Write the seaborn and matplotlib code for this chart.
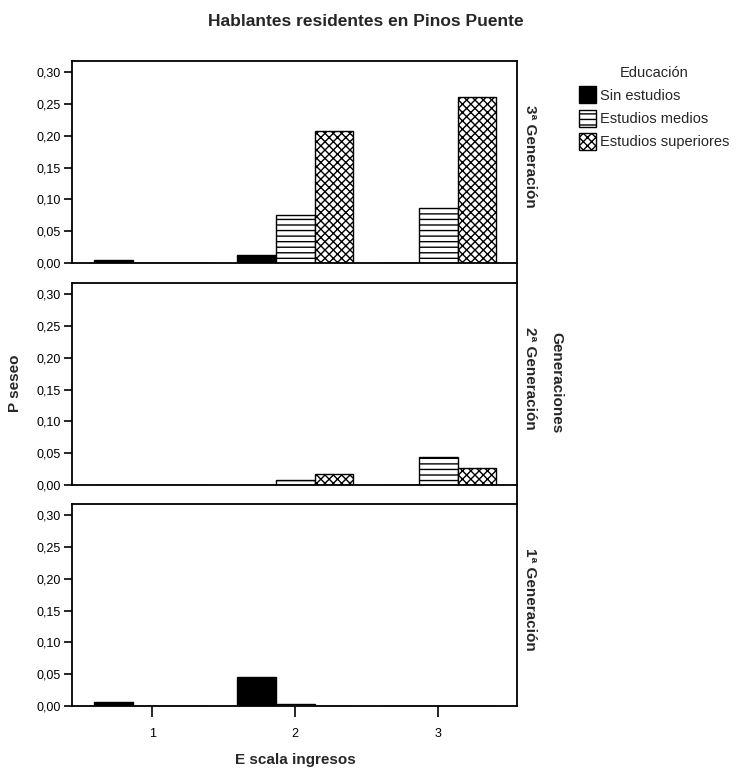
import matplotlib
matplotlib.use("Agg")
import matplotlib.pyplot as plt
import seaborn as sns
import pandas as pd
from matplotlib.lines import Line2D
from matplotlib.patches import Patch
from matplotlib.ticker import FuncFormatter

# ---- data ----
incomes = ["1", "2", "3"]
education = ["Sin estudios", "Estudios medios", "Estudios superiores"]
generations = ["3ª Generación", "2ª Generación", "1ª Generación"]
gen3_sin = [0.005, 0.012, 0.000]
gen3_med = [0.000, 0.075, 0.086]
gen3_sup = [0.000, 0.208, 0.261]
gen2_sin = [0.000, 0.000, 0.000]
gen2_med = [0.000, 0.008, 0.044]
gen2_sup = [0.000, 0.017, 0.026]
gen1_sin = [0.007, 0.046, 0.000]
gen1_med = [0.000, 0.003, 0.000]
gen1_sup = [0.000, 0.000, 0.000]
yticks = [0.00, 0.05, 0.10, 0.15, 0.20, 0.25, 0.30]

series = {
    generations[0]: [gen3_sin, gen3_med, gen3_sup],
    generations[1]: [gen2_sin, gen2_med, gen2_sup],
    generations[2]: [gen1_sin, gen1_med, gen1_sup],
}
rows = []
for g, vals in series.items():
    for e, v in zip(education, vals):
        for i, y in zip(incomes, v):
            rows.append({"gen": g, "edu": e, "inc": i, "val": y})
df = pd.DataFrame(rows)

sns.set_style("white")
plt.rcParams["font.family"] = ["Liberation Sans", "DejaVu Sans"]
plt.rcParams["hatch.linewidth"] = 1.0

fig = plt.figure(figsize=(7.49, 7.71), dpi=100)
W, H = 749, 771
left, right = 72, 517
panels = [(61, 263), (283, 485), (504, 706)]
faces = ["black", "white", "white"]
hatches = [None, "---", "xxxx"]

axes = []
for k, (top, bot) in enumerate(panels):
    ax = fig.add_axes([left / W, 1 - bot / H, (right - left) / W, (bot - top) / H])
    sub = df[df["gen"] == generations[k]]
    sns.barplot(data=sub, x="inc", y="val", hue="edu", order=incomes,
                hue_order=education, width=0.81, ax=ax, legend=False,
                edgecolor="black", linewidth=1.0, saturation=1)
    for c, cont in enumerate(ax.containers):
        for p in cont:
            p.set_facecolor(faces[c])
            p.set_edgecolor("black")
            if hatches[c]:
                p.set_hatch(hatches[c])
    ax.set_xlim(-0.56, 2.55)
    ax.set_ylim(0, 0.3173)
    ax.set_yticks(yticks)
    ax.yaxis.set_major_formatter(FuncFormatter(lambda v, _: f"{v:.2f}".replace(".", ",")))
    ax.tick_params(axis="y", left=True, direction="out", length=6, width=1.2,
                   labelsize=9, pad=2, colors="black")
    for s in ["left", "bottom", "top"]:
        ax.spines[s].set_visible(True)
        ax.spines[s].set_color("black")
        ax.spines[s].set_linewidth(1.3)
    ax.spines["right"].set_visible(False)
    ax.set_xlabel("")
    ax.set_ylabel("")
    if k < 2:
        ax.tick_params(axis="x", bottom=False, labelbottom=False)
    else:
        ax.tick_params(axis="x", bottom=True, direction="out", length=8, width=1.2,
                       labelsize=9, pad=8, colors="black")
    ax.text(1.03, 0.53, generations[k], transform=ax.transAxes, rotation=-90,
            ha="center", va="center", fontsize=11, fontweight="bold")
    axes.append(ax)

# continuous right frame line
fig.add_artist(Line2D([right / W, right / W], [1 - panels[2][1] / H, 1 - panels[0][0] / H],
                      color="black", linewidth=1.3, transform=fig.transFigure))

fig.text(366 / W, 1 - 22 / H, "Hablantes residentes en Pinos Puente",
         ha="center", va="center", fontsize=12.5, fontweight="bold")
fig.text(15 / W, 1 - 383 / H, "P seseo", rotation=90, ha="center", va="center",
         fontsize=11, fontweight="bold")
fig.text(295 / W, 1 - 760 / H, "E scala ingresos", ha="center", va="center",
         fontsize=11, fontweight="bold")
fig.text(556 / W, 1 - 383 / H, "Generaciones", rotation=-90, ha="center", va="center",
         fontsize=11, fontweight="bold")

handles = [Patch(facecolor=faces[i], edgecolor="black", hatch=hatches[i] if hatches[i] else None,
                 label=education[i]) for i in range(3)]
leg = fig.legend(handles=handles, title="Educación", loc="upper left",
                 bbox_to_anchor=(573 / W, 1 - 60 / H), frameon=False, fontsize=10.5,
                 title_fontsize=10.5, handlelength=1.2, handleheight=1.4,
                 handletextpad=0.25, labelspacing=0.45, borderaxespad=0)

fig.savefig("out.png", dpi=100)
